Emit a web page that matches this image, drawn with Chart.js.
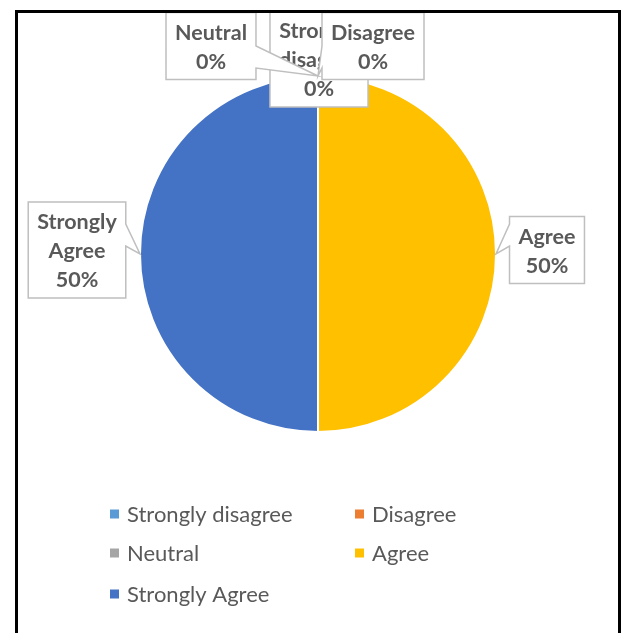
<!DOCTYPE html>
<html>
<head>
<meta charset="utf-8">
<script src="https://cdn.jsdelivr.net/npm/chart.js@4.4.0/dist/chart.umd.min.js"></script>
<style>
  html, body { margin: 0; padding: 0; background: #fff; }
  #wrap { position: relative; width: 622px; height: 633px; overflow: hidden; }
  #frame { position: absolute; left: 15px; top: 10px; width: 606px; height: 700px;
           border: 3px solid #000; box-sizing: border-box; pointer-events: none; }
  canvas { position: absolute; left: 0; top: 0; }
</style>
</head>
<body>
<div id="wrap">
  <canvas id="pieChart" width="622" height="633"></canvas>
  <div id="frame"></div>
</div>
<script>
const categories = ['Strongly disagree', 'Disagree', 'Neutral', 'Agree', 'Strongly Agree'];
const responses = [0, 0, 0, 50, 50];
const sliceColors = ['#5B9BD5', '#ED7D31', '#A5A5A5', '#FFC000', '#4472C4'];

// where each callout box sits, relative to its slice's outer edge point
const labelOffsets = [
    { dx: 1, dy: -17 },
    { dx: 55, dy: -30 },
    { dx: -107, dy: -30 },
    { dx: 51, dy: -4 },
    { dx: -63, dy: -4 }
];

const textColor = '#595959';
const labelFont = 'bold 21.5px Lato';
const legendFont = '22px Lato';

const calloutPlugin = {
    id: 'callouts',
    afterDatasetsDraw(chart) {
        const ctx = chart.ctx;
        const meta = chart.getDatasetMeta(0);
        const vals = chart.data.datasets[0].data;
        const total = vals.reduce((a, b) => a + b, 0);
        ctx.save();
        ctx.font = labelFont;
        meta.data.forEach((arc, i) => {
            const p = arc.getProps(['x', 'y', 'startAngle', 'endAngle', 'outerRadius'], true);
            const mid = (p.startAngle + p.endAngle) / 2;
            const ax = p.x + Math.cos(mid) * p.outerRadius;
            const ay = p.y + Math.sin(mid) * p.outerRadius;
            const pct = Math.round(vals[i] / total * 100) + '%';
            const lines = chart.data.labels[i].split(' ').concat([pct]);
            const tw = Math.max(...lines.map(l => ctx.measureText(l).width));
            const w = tw + 18;
            const h = lines.length * 29 + 9;
            const cx = ax + labelOffsets[i].dx;
            const cy = ay + labelOffsets[i].dy;
            const left = cx - w / 2, top = cy - h / 2, right = cx + w / 2, bottom = cy + h / 2;

            // box with a wedge pointing at the slice
            ctx.beginPath();
            ctx.moveTo(left, top);
            ctx.lineTo(right, top);
            if (ax > right) {
                const b1 = Math.max(top, ay - 30), b2 = Math.min(bottom, ay - 8);
                ctx.lineTo(right, b1); ctx.lineTo(ax, ay); ctx.lineTo(right, b2);
            }
            ctx.lineTo(right, bottom);
            ctx.lineTo(left, bottom);
            if (ax < left) {
                const b1 = Math.max(top, ay - 30), b2 = Math.min(bottom, ay - 8);
                ctx.lineTo(left, b2); ctx.lineTo(ax, ay); ctx.lineTo(left, b1);
            }
            ctx.closePath();
            ctx.fillStyle = '#fff';
            ctx.fill();
            ctx.strokeStyle = '#BFBFBF';
            ctx.lineWidth = 1.5;
            ctx.stroke();

            ctx.fillStyle = textColor;
            ctx.textAlign = 'center';
            ctx.textBaseline = 'middle';
            lines.forEach((l, k) => ctx.fillText(l, cx, top + 20.5 + k * 29));
        });
        ctx.restore();
    },
    afterDraw(chart) {
        // two column legend under the pie
        const ctx = chart.ctx;
        const cols = [110, 355];
        const rows = [514, 553, 594];
        ctx.save();
        ctx.font = legendFont;
        ctx.textAlign = 'left';
        ctx.textBaseline = 'middle';
        chart.data.labels.forEach((lab, i) => {
            const x = cols[i % 2], y = rows[Math.floor(i / 2)];
            ctx.fillStyle = sliceColors[i];
            ctx.fillRect(x, y - 4.5, 9, 9);
            ctx.fillStyle = textColor;
            ctx.fillText(lab, x + 17, y + 1);
        });
        ctx.restore();
    }
};

const ctx = document.getElementById('pieChart').getContext('2d');
new Chart(ctx, {
    type: 'pie',
    data: {
        labels: categories,
        datasets: [{
            data: responses,
            backgroundColor: sliceColors,
            borderColor: '#fff',
            borderWidth: 2
        }]
    },
    options: {
        responsive: false,
        animation: false,
        layout: { padding: { left: 139, right: 125, top: 75, bottom: 200 } },
        plugins: {
            legend: { display: false },
            tooltip: { enabled: false }
        }
    },
    plugins: [calloutPlugin]
});
</script>
</body>
</html>
